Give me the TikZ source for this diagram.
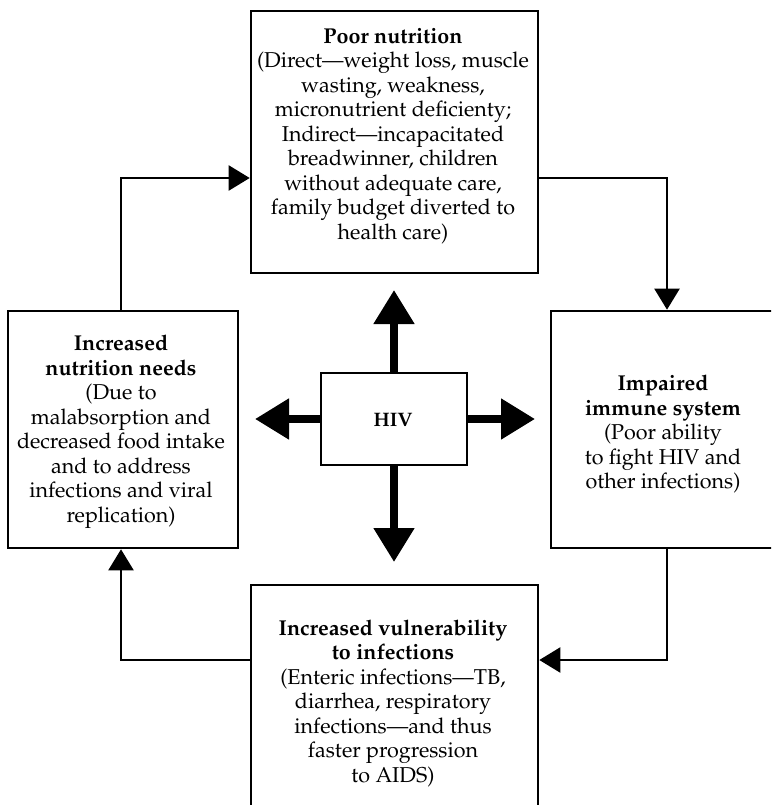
\documentclass[tikz,border=0pt]{standalone}
\usepackage[T1]{fontenc}
\renewcommand{\rmdefault}{ppl}
\usetikzlibrary{arrows.meta}
\tikzset{
  box/.style={draw, line width=2.6pt, rectangle, inner sep=0pt},
  txt/.style={align=center, inner sep=0pt, font=\fontsize{21.5}{24.5}\selectfont},
  conn/.style={line width=2.2pt, -{Triangle[length=21pt,width=25pt]}},
  bigarrow/.style={line width=8pt, -{Triangle[length=34pt,width=39pt]}},
}
\begin{document}
\begin{tikzpicture}[x=1pt,y=-1pt]
\useasboundingbox (0,0) rectangle (771,805);
\clip (0,0) rectangle (771,805);
\node[box, minimum width=287pt, minimum height=262pt] (poor) at (394.5,142) {};
\node[txt] (poortxt) at (393,136)
 {\textbf{Poor nutrition}\\(Direct---weight loss, muscle\\wasting, weakness,\\micronutrient deficienty;\\Indirect---incapacitated\\breadwinner, children\\without adequate care,\\family budget diverted to\\health care)};
\node[box, minimum width=232pt, minimum height=237pt] (immune) at (667,429.5) {};
\node[txt] (immunetxt) at (663,434)
 {\textbf{Impaired}\\\textbf{immune system}\\(Poor ability\\to fight HIV and\\other infections)};
\node[box, minimum width=230pt, minimum height=237pt] (needs) at (123,429.5) {};
\node[txt] (needstxt) at (121,432)
 {\textbf{Increased}\\\textbf{nutrition needs}\\(Due to\\malabsorption and\\decreased food intake\\and to address\\infections and viral\\replication)};
\node[box, minimum width=287pt, minimum height=232pt] (vuln) at (394.5,701) {};
\node[txt] (vulntxt) at (393,703)
 {\textbf{Increased vulnerability}\\\textbf{to infections}\\(Enteric infections---TB,\\diarrhea, respiratory\\infections---and thus\\faster progression\\to AIDS)};
\node[box, minimum width=146pt, minimum height=92pt] (hiv) at (394,419) {};
\node[txt, font=\fontsize{19.5}{22}\selectfont\bfseries] (hivtxt) at (393,420) {HIV};
\coordinate (tipN) at (394,290);
\coordinate (tipS) at (394,562);
\coordinate (tipW) at (255,419);
\coordinate (tipE) at (535,419);
\draw[bigarrow] (hiv.north) -- (tipN);
\draw[bigarrow] (hiv.south) -- (tipS);
\draw[bigarrow] (hiv.west) -- (tipW);
\draw[bigarrow] (hiv.east) -- (tipE);
\draw[conn] ([xshift=-2pt]needs.north) |- ([yshift=-36pt]poor.west);
\draw[conn] ([yshift=-36pt]poor.east) -| (immune.north);
\draw[conn] (immune.south) |- ([yshift=41pt]vuln.east);
\draw[conn] ([yshift=41pt]vuln.west) -| ([xshift=-2pt]needs.south);
\end{tikzpicture}
\end{document}
